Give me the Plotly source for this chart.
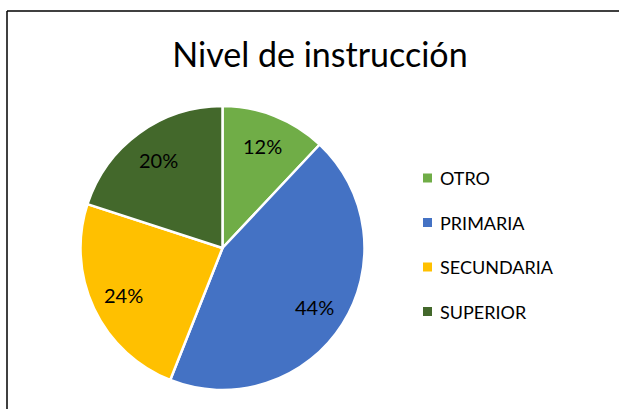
import math
import plotly.graph_objects as go

# Datos del gráfico
categorias = ['OTRO', 'PRIMARIA', 'SECUNDARIA', 'SUPERIOR']
porcentajes = [12, 44, 24, 20]
colores = ['#70AD47', '#4472C4', '#FFC000', '#43682B']

fuente = 'Lato'
W, H = 619, 409

# Zona del pastel en píxeles (izq, der, arriba, abajo)
px0, px1, py0, py1 = 80, 365, 106, 390
cx, cy = (px0 + px1) / 2, (py0 + py1) / 2
radio = (py1 - py0) / 2

pie = go.Pie(
    labels=categorias,
    values=porcentajes,
    sort=False,
    direction='clockwise',
    rotation=0,
    marker=dict(colors=colores, line=dict(color='white', width=2.5)),
    textinfo='none',
    domain=dict(x=[px0 / W, px1 / W], y=[1 - py1 / H, 1 - py0 / H]),
    showlegend=False,
    hoverinfo='label+percent',
)

fig = go.Figure(data=[pie])

shapes = []
annotations = []

# Etiquetas de porcentaje colocadas como "ajuste óptimo" de Excel
total = sum(porcentajes)
acum = 0
for v in porcentajes:
    ang = math.radians((acum + v / 2) / total * 360)
    acum += v
    x = cx + 0.77 * radio * math.sin(ang)
    y = cy - 0.77 * radio * math.cos(ang)
    annotations.append(dict(text=f'{round(v / total * 100)}%', xref='paper', yref='paper',
                            x=x / W, y=1 - y / H, xanchor='center', yanchor='middle',
                            showarrow=False,
                            font=dict(family=fuente, size=20, color='black')))

# Leyenda manual (para reproducir el espaciado de Excel)
ley_y0 = 178
paso = 44.5
for i, (cat, col) in enumerate(zip(categorias, colores)):
    yc = 1 - (ley_y0 + i * paso) / H
    shapes.append(dict(type='rect', xref='paper', yref='paper',
                       x0=423 / W, x1=432 / W,
                       y0=yc - 4.5 / H, y1=yc + 4.5 / H,
                       fillcolor=col, line=dict(width=0)))
    annotations.append(dict(text=cat, xref='paper', yref='paper',
                            x=438 / W, y=yc, xanchor='left', yanchor='middle',
                            showarrow=False,
                            font=dict(family=fuente, size=18, color='black')))

# Marco del gráfico (línea superior e izquierda)
shapes.append(dict(type='line', xref='paper', yref='paper',
                   x0=7 / W, x1=1, y0=1 - 11 / H, y1=1 - 11 / H,
                   line=dict(color='black', width=1.5)))
shapes.append(dict(type='line', xref='paper', yref='paper',
                   x0=7 / W, x1=7 / W, y0=0, y1=1 - 11 / H,
                   line=dict(color='black', width=1.5)))

fig.update_layout(
    width=W,
    height=H,
    margin=dict(l=0, r=0, t=0, b=0),
    paper_bgcolor='white',
    plot_bgcolor='white',
    title=dict(text='Nivel de instrucción', x=320 / W, xanchor='center',
               y=1 - 55 / H, yanchor='middle',
               font=dict(family=fuente, size=34, color='black')),
    shapes=shapes,
    annotations=annotations,
)

fig.write_html('out.html', config={'displayModeBar': False},
               post_script="document.body.style.margin='0';document.body.style.overflow='hidden';")
